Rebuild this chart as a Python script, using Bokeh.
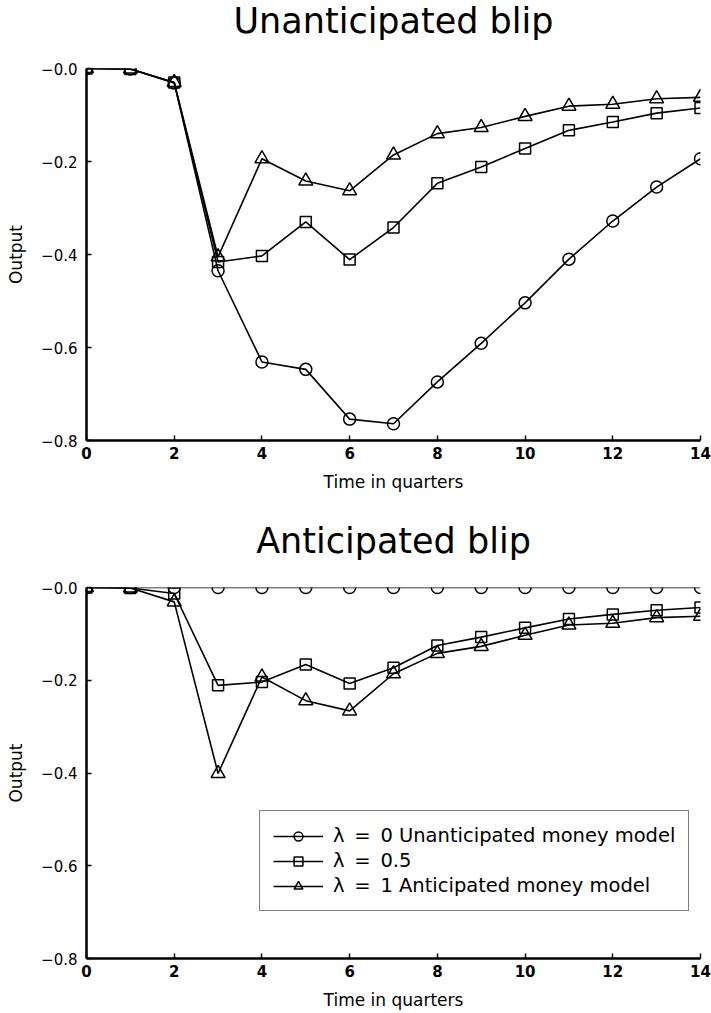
from bokeh.plotting import figure
from bokeh.layouts import column
from bokeh.models import Range1d, FixedTicker, Legend, LegendItem, LinearAxis
from bokeh.embed import file_html
from bokeh.resources import INLINE

# ---------------- data ----------------
quarters = [0, 1, 2, 3, 4, 5, 6, 7, 8, 9, 10, 11, 12, 13, 14]

# Unanticipated blip
unant_lam0 = [0.0, -0.001, -0.031, -0.435, -0.631, -0.647, -0.754, -0.764,
              -0.674, -0.591, -0.504, -0.410, -0.328, -0.255, -0.194]
unant_lam05 = [0.0, -0.001, -0.030, -0.416, -0.403, -0.330, -0.411, -0.342,
               -0.247, -0.212, -0.172, -0.133, -0.115, -0.096, -0.085]
unant_lam1 = [0.0, -0.001, -0.030, -0.405, -0.194, -0.242, -0.263, -0.186,
              -0.140, -0.127, -0.103, -0.081, -0.077, -0.065, -0.062]

# Anticipated blip
ant_lam0 = [0.0, 0.0, 0.0, 0.0, 0.0, 0.0, 0.0, 0.0,
            0.0, 0.0, 0.0, 0.0, 0.0, 0.0, 0.0]
ant_lam05 = [0.0, -0.001, -0.013, -0.211, -0.204, -0.166, -0.207, -0.173,
             -0.125, -0.107, -0.087, -0.068, -0.058, -0.049, -0.043]
ant_lam1 = [0.0, -0.001, -0.031, -0.401, -0.193, -0.244, -0.266, -0.186,
            -0.142, -0.127, -0.103, -0.081, -0.077, -0.065, -0.062]

series_labels = ["λ\u2002=\u20020 Unanticipated money model",
                 "λ\u2002=\u20020.5",
                 "λ\u2002=\u20021 Anticipated money model"]
series_markers = ["circle", "square", "triangle"]

x_ticks = [0, 2, 4, 6, 8, 10, 12, 14]
y_ticks = [-0.8, -0.6, -0.4, -0.2, 0.0]
y_tick_labels = ["−0.8", "−0.6", "−0.4", "−0.2", "−0.0"]

titles = ["Unanticipated blip", "Anticipated blip"]
x_label = "Time in quarters"
y_label = "Output"

FONT = "DejaVu Sans"
MARKER_SIZE = {"circle": 12, "square": 11, "triangle": 14}


def make_panel(title, ys, height, border_top, border_bottom, title_gap,
               with_legend):
    p = figure(width=711, height=height, output_backend="svg",
               toolbar_location=None, x_range=Range1d(0, 14),
               y_range=Range1d(-0.8, 0.0),
               min_border_left=86, min_border_right=11,
               min_border_top=border_top, min_border_bottom=border_bottom)
    p.title.text = title
    p.title.align = "center"
    p.title.text_font = FONT
    p.title.text_font_size = "35px"
    p.title.text_font_style = "normal"
    p.title.text_color = "black"
    p.title.standoff = -7

    xa = p.below[0]
    ya = p.left[0]

    # blank spacer band between the frame and the title (one invisible
    # white tick at the first x tick position, no label, no axis line)
    spacer = LinearAxis(ticker=FixedTicker(ticks=x_ticks[:1]),
                        axis_line_color=None,
                        major_tick_in=0, major_tick_out=title_gap,
                        minor_tick_in=0, minor_tick_out=0,
                        major_label_overrides={x_ticks[0]: ""},
                        major_label_text_font_size="1px",
                        major_label_standoff=0,
                        major_tick_line_color="white",
                        minor_tick_line_color=None)
    p.add_layout(spacer, "above")

    p.outline_line_color = None
    p.xgrid.visible = False
    p.ygrid.visible = False
    p.background_fill_color = "white"
    p.border_fill_color = "white"

    xa.ticker = FixedTicker(ticks=x_ticks)
    ya.ticker = FixedTicker(ticks=y_ticks)
    ya.major_label_overrides = {t: l for t, l in zip(y_ticks, y_tick_labels)}
    for ax in (xa, ya):
        ax.axis_line_width = 2.5
        ax.axis_line_color = "black"
        ax.major_tick_in = 5
        ax.major_tick_out = 0
        ax.major_tick_line_width = 1.5
        ax.major_tick_line_color = "black"
        ax.minor_tick_line_color = None
        ax.major_label_text_font = FONT
        ax.major_label_text_font_size = "15px"
        ax.major_label_text_color = "black"
        ax.axis_label_text_font = FONT
        ax.axis_label_text_font_size = "17px"
        ax.axis_label_text_font_style = "normal"
        ax.axis_label_text_color = "black"
    xa.major_label_text_font_style = "bold"
    xa.major_label_standoff = 6
    ya.major_label_standoff = 9
    xa.axis_label = x_label
    ya.axis_label = y_label
    xa.axis_label_standoff = 10
    ya.axis_label_standoff = 12

    items = []
    for y, lab, mk in zip(ys, series_labels, series_markers):
        lr = p.line(quarters, y, line_color="black", line_width=1.6)
        sr = p.scatter(quarters, y, marker=mk, size=MARKER_SIZE[mk],
                       line_color="black", line_width=1.5,
                       fill_alpha=0.0)
        items.append(LegendItem(label=lab, renderers=[lr, sr]))

    if with_legend:
        legend = Legend(items=items, location=(173, 47))
        legend.border_line_color = "black"
        legend.border_line_width = 1.5
        legend.background_fill_color = "white"
        legend.background_fill_alpha = 1.0
        legend.label_text_font = FONT
        legend.label_text_font_size = "19.5px"
        legend.label_text_color = "black"
        legend.glyph_width = 50
        legend.glyph_height = 22
        legend.label_height = 22
        legend.spacing = 2
        legend.padding = 13
        legend.margin = 0
        legend.label_standoff = 10
        p.add_layout(legend)
    return p


p1 = make_panel(titles[0], [unant_lam0, unant_lam05, unant_lam1],
                height=505, border_top=68, border_bottom=65,
                title_gap=31, with_legend=False)
p2 = make_panel(titles[1], [ant_lam0, ant_lam05, ant_lam1],
                height=507, border_top=82, border_bottom=54,
                title_gap=30, with_legend=True)

layout = column(p1, p2, spacing=0)

with open("out.html", "w") as f:
    f.write(file_html(layout, INLINE))
